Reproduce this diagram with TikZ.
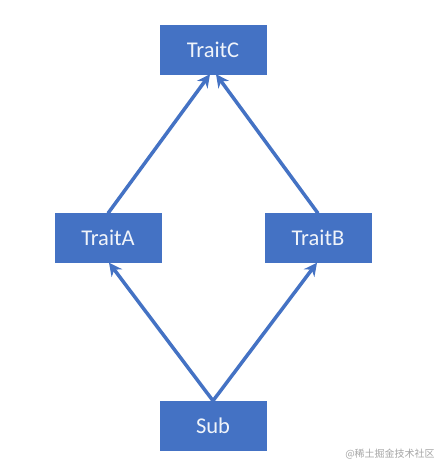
\documentclass[tikz,border=0pt]{standalone}
\usepackage{fontspec}
\setmainfont{Carlito}
\newfontfamily\cjk{Noto Sans CJK SC}
\usetikzlibrary{arrows.meta,positioning}
\definecolor{traitblue}{HTML}{4472C4}

\begin{document}
\begin{tikzpicture}[x=1pt,y=1pt,
        trait/.style={draw=traitblue, fill=traitblue, minimum width=106pt, minimum height=49pt,
            text=white!92!traitblue, font=\fontsize{22.5}{26}\selectfont, inner sep=0pt},
        inherit/.style={draw=traitblue, line width=3.5pt, -{Stealth[length=13pt,width=13pt]}}]
                \useasboundingbox (0,0) rectangle (444,-472);
                \fill[white] (0,0) rectangle (444,-472);
                \node[trait] (TraitC) at (213,-49.5) {TraitC};
                \node[trait] (TraitA) at (108,-238) {TraitA};
                \node[trait] (TraitB) at (318,-238) {TraitB};
                \node[trait] (Sub) at (213,-425.5) {Sub};
                \draw[inherit] (Sub.north) -- ([xshift=1pt]TraitA.south);
                \draw[inherit] (Sub.north) -- ([xshift=-1pt]TraitB.south);
                \draw[inherit] (TraitA.north) -- ([xshift=-3pt]TraitC.south);
                \draw[inherit] (TraitB.north) -- ([xshift=3pt]TraitC.south);
                \node[text=gray!70, font=\cjk\fontsize{10}{12}\selectfont] (mark) at (390,-454) {@稀土掘金技术社区};
\end{tikzpicture}
\end{document}
